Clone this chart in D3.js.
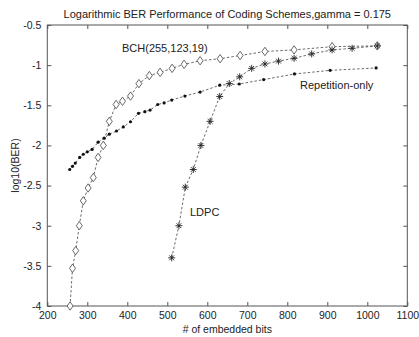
<!DOCTYPE html>
<html>
<head>
<meta charset="utf-8">
<script src="https://cdn.jsdelivr.net/npm/d3@7"></script>
<style>
  body { margin: 0; background: #fff; }
  text { font-family: "Liberation Sans", Arial, sans-serif; fill: #222; }
</style>
</head>
<body>
<div id="chart"></div>
<script>
// datos
const bchBits = [257, 263, 271, 280, 290, 302, 315, 327, 340, 355, 372, 388, 408, 429, 455, 482, 512, 542, 582, 632, 682, 744, 817, 912, 1025];
const bchLogBer = [-4.0, -3.53, -3.31, -3.0, -2.69, -2.53, -2.40, -2.15, -2.0, -1.70, -1.49, -1.45, -1.385, -1.23, -1.13, -1.09, -1.04, -0.99, -0.945, -0.92, -0.88, -0.83, -0.81, -0.77, -0.76];

const repBits = [256, 263, 270, 281, 290, 300, 312, 327, 342, 355, 373, 390, 408, 428, 444, 457, 476, 492, 511, 544, 582, 631, 680, 741, 818, 907, 1022];
const repLogBer = [-2.30, -2.26, -2.22, -2.15, -2.11, -2.08, -2.05, -1.96, -1.91, -1.86, -1.82, -1.77, -1.705, -1.60, -1.58, -1.56, -1.49, -1.47, -1.435, -1.385, -1.335, -1.25, -1.235, -1.18, -1.11, -1.065, -1.035];

const ldpcBits = [511, 529, 545, 565, 584, 607, 631, 655, 681, 711, 744, 778, 817, 861, 912, 962, 1025];
const ldpcLogBer = [-3.40, -3.0, -2.52, -2.30, -2.0, -1.70, -1.39, -1.23, -1.145, -1.04, -0.985, -0.95, -0.915, -0.86, -0.81, -0.79, -0.76];

const xTicks = [200, 300, 400, 500, 600, 700, 800, 900, 1000, 1100];
const yTicks = [-4, -3.5, -3, -2.5, -2, -1.5, -1, -0.5];

const width = 419;
const height = 337;
const plotL = 47.3, plotR = 407.3, plotT = 25, plotB = 306;

const x = d3.scaleLinear().domain([200, 1100]).range([plotL, plotR]);
const y = d3.scaleLinear().domain([-4, -0.5]).range([plotB, plotT]);

const svg = d3.select('#chart')
  .append('svg')
  .attr('width', width)
  .attr('height', height);

// caja
svg.append('rect')
  .attr('x', plotL).attr('y', plotT)
  .attr('width', plotR - plotL).attr('height', plotB - plotT)
  .attr('fill', 'none').attr('stroke', '#555').attr('stroke-width', 1);

const fmt = d => String(d);

// ejes (ticks hacia dentro)
function styleAxis(g) {
  g.select('.domain').remove();
  g.selectAll('line').attr('stroke', '#555');
  g.selectAll('text').attr('font-size', 10.5).attr('fill', '#222');
}
svg.append('g').attr('transform', `translate(0,${plotB})`)
  .call(d3.axisBottom(x).tickValues(xTicks).tickFormat(fmt).tickSizeInner(-4).tickSizeOuter(0).tickPadding(6))
  .call(styleAxis);
svg.append('g').attr('transform', `translate(0,${plotT})`)
  .call(d3.axisTop(x).tickValues(xTicks).tickFormat('').tickSizeInner(-4).tickSizeOuter(0))
  .call(styleAxis);
svg.append('g').attr('transform', `translate(${plotL},0)`)
  .call(d3.axisLeft(y).tickValues(yTicks).tickFormat(fmt).tickSizeInner(-4).tickSizeOuter(0).tickPadding(6))
  .call(styleAxis);
svg.append('g').attr('transform', `translate(${plotR},0)`)
  .call(d3.axisRight(y).tickValues(yTicks).tickFormat('').tickSizeInner(-4).tickSizeOuter(0))
  .call(styleAxis);

// lineas
const line = d3.line().x(d => x(d[0])).y(d => y(d[1]));
const series = [
  { name: 'bch', pts: d3.zip(bchBits, bchLogBer) },
  { name: 'rep', pts: d3.zip(repBits, repLogBer) },
  { name: 'ldpc', pts: d3.zip(ldpcBits, ldpcLogBer) }
];
series.forEach(s => {
  svg.append('path')
    .datum(s.pts)
    .attr('d', line)
    .attr('fill', 'none')
    .attr('stroke', '#444')
    .attr('stroke-width', 0.8)
    .attr('stroke-dasharray', '2.5,2');
});

// marcadores
svg.selectAll('.bchm')
  .data(series[0].pts)
  .enter()
  .append('path')
  .attr('class', 'bchm')
  .attr('d', 'M0,-4.2L3,0L0,4.2L-3,0Z')
  .attr('transform', d => `translate(${x(d[0])},${y(d[1])})`)
  .attr('fill', '#fff')
  .attr('stroke', '#444')
  .attr('stroke-width', 0.8);

svg.selectAll('.repm')
  .data(series[1].pts)
  .enter()
  .append('circle')
  .attr('class', 'repm')
  .attr('cx', d => x(d[0]))
  .attr('cy', d => y(d[1]))
  .attr('r', 1.6)
  .attr('fill', '#111');

svg.selectAll('.ldpcm')
  .data(series[2].pts)
  .enter()
  .append('path')
  .attr('class', 'ldpcm')
  .attr('d', 'M-3.5,0L3.5,0M0,-3.5L0,3.5M-2.4,-2.4L2.4,2.4M-2.4,2.4L2.4,-2.4')
  .attr('transform', d => `translate(${x(d[0])},${y(d[1])})`)
  .attr('stroke', '#222')
  .attr('stroke-width', 0.9);

// textos
svg.append('text')
  .attr('x', (plotL + plotR) / 2).attr('y', 18)
  .attr('text-anchor', 'middle').attr('font-size', 11)
  .text('Logarithmic BER Performance of Coding Schemes,gamma = 0.175');

svg.append('text')
  .attr('x', (plotL + plotR) / 2).attr('y', 333)
  .attr('text-anchor', 'middle').attr('font-size', 10.5)
  .text('# of embedded bits');

svg.append('text')
  .attr('transform', `translate(19,${(plotT + plotB) / 2}) rotate(-90)`)
  .attr('text-anchor', 'middle').attr('font-size', 10.5)
  .text('log10(BER)');

svg.append('text').attr('x', 122).attr('y', 52).attr('font-size', 11).text('BCH(255,123,19)');
svg.append('text').attr('x', 300).attr('y', 89).attr('font-size', 11).text('Repetition-only');
svg.append('text').attr('x', 190).attr('y', 216).attr('font-size', 11).text('LDPC');
</script>
</body>
</html>
